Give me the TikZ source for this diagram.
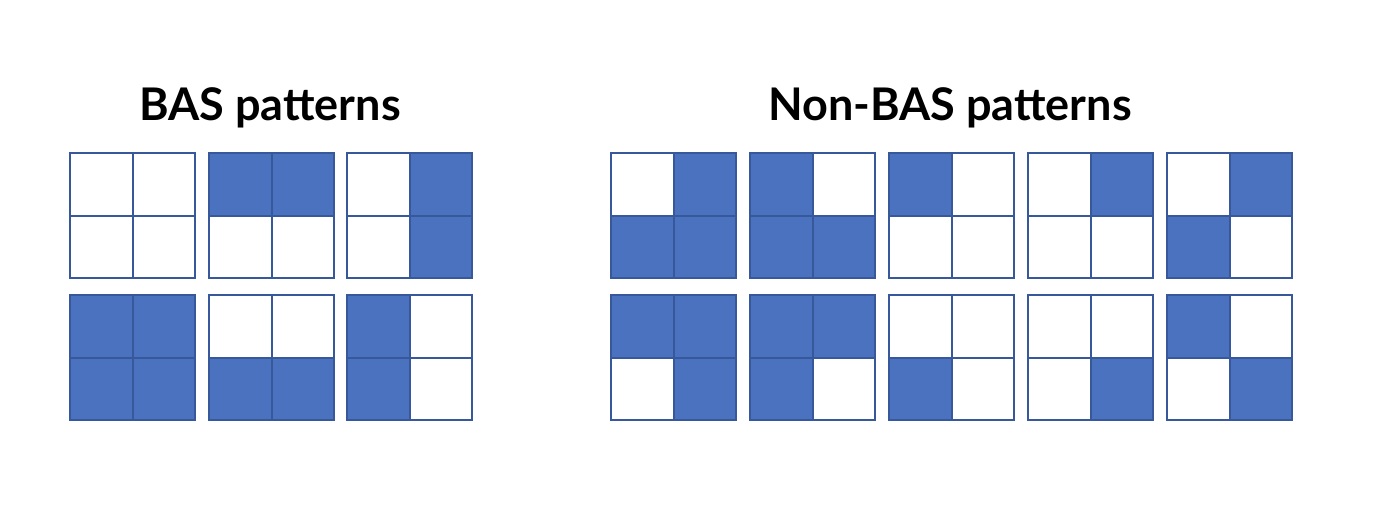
\documentclass[tikz,border=0pt]{standalone}
\usepackage{fontspec}
\setmainfont{Lato}
\definecolor{cellfill}{HTML}{4A72BE}
\definecolor{cellline}{HTML}{37589A}
\begin{document}
\begin{tikzpicture}[x=1pt,y=-1pt,
  cellon/.style={fill=cellfill,draw=cellline,line width=2pt},
  celloff/.style={fill=white,draw=cellline,line width=2pt},
  title/.style={font=\bfseries\fontsize{45}{54}\selectfont,inner sep=0pt}]
\useasboundingbox (0,0) rectangle (1388,520);
\def\cs{62.5}
% #1 x, #2 y, #3..#6 states TL TR BL BR
\newcommand{\mygrid}[6]{%
  \foreach \s/\i/\j in {#3/0/0,#4/1/0,#5/0/1,#6/1/1}{%
    \ifnum\s=1
      \draw[cellon] ({#1+\i*\cs},{#2+\j*\cs}) rectangle ++(\cs,\cs);
    \else
      \draw[celloff] ({#1+\i*\cs},{#2+\j*\cs}) rectangle ++(\cs,\cs);
    \fi}%
}
\node[title] (t1) at (270,108) {BAS patterns};
\node[title] (t2) at (950,108) {Non-BAS patterns};
% BAS
\mygrid{70}{153}{0}{0}{0}{0}
\mygrid{209}{153}{1}{1}{0}{0}
\mygrid{347}{153}{0}{1}{0}{1}
\mygrid{70}{295}{1}{1}{1}{1}
\mygrid{209}{295}{0}{0}{1}{1}
\mygrid{347}{295}{1}{0}{1}{0}
% Non-BAS
\mygrid{611}{153}{0}{1}{1}{1}
\mygrid{750}{153}{1}{0}{1}{1}
\mygrid{889}{153}{1}{0}{0}{0}
\mygrid{1028}{153}{0}{1}{0}{0}
\mygrid{1167}{153}{0}{1}{1}{0}
\mygrid{611}{295}{1}{1}{0}{1}
\mygrid{750}{295}{1}{1}{1}{0}
\mygrid{889}{295}{0}{0}{1}{0}
\mygrid{1028}{295}{0}{0}{0}{1}
\mygrid{1167}{295}{1}{0}{0}{1}
\end{tikzpicture}
\end{document}
